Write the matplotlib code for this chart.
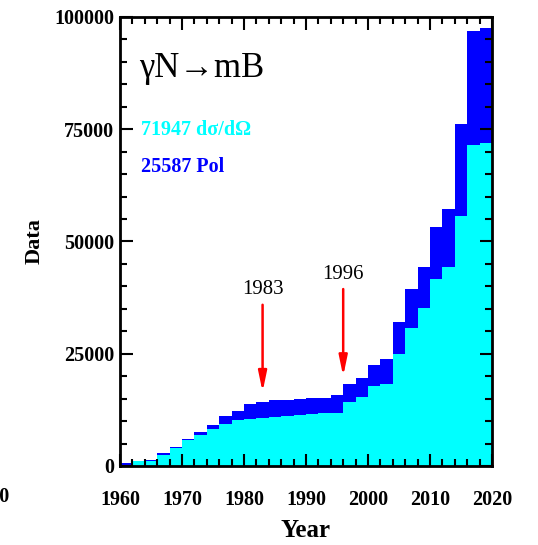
import numpy as np
import matplotlib
matplotlib.use('Agg')
import matplotlib.pyplot as plt
from matplotlib.ticker import MultipleLocator

# two-year bins, cumulative counts
bin_edges = list(range(1960, 2022, 2))
cross_section = [300, 1000, 1200, 2500, 4100, 5700, 6800, 8200, 9400, 10300,
                 10400, 10600, 10900, 11100, 11300, 11500, 11700, 11900, 14200, 15400,
                 17700, 18300, 24900, 30700, 35100, 41600, 44400, 55700, 71500, 72000]
total = [600, 1100, 1300, 3000, 4300, 6000, 7500, 9100, 11100, 12300,
         13700, 14300, 14600, 14800, 15000, 15100, 15200, 15900, 18300, 19500,
         22500, 23800, 32100, 39400, 44400, 53300, 57200, 76100, 96900, 97500]
markers = [1983, 1996]
marker_tip = [16500, 20000]
marker_tail = [35900, 39400]

serif = 'Liberation Serif'

fig = plt.figure(figsize=(5.38, 5.45), dpi=100)
ax = fig.add_axes([0.223, 0.145, 0.6915, 0.8239])

ax.stairs(total, bin_edges, baseline=0, fill=True, color='#0000ff', lw=0)
ax.stairs(cross_section, bin_edges, baseline=0, fill=True, color='#00ffff', lw=0)

ax.set_xlim(1960, 2020)
ax.set_ylim(0, 100000)
ax.xaxis.set_major_locator(MultipleLocator(10))
ax.xaxis.set_minor_locator(MultipleLocator(2))
ax.yaxis.set_major_locator(MultipleLocator(25000))
ax.yaxis.set_minor_locator(MultipleLocator(5000))
ax.tick_params(which='both', direction='in', top=True, right=True, width=1.5, color='black')
ax.tick_params(which='major', length=9, labelsize=14.5)
ax.tick_params(which='minor', length=5)
ax.tick_params(axis='x', which='major', pad=17)
ax.tick_params(axis='y', which='major', pad=4)
for lab in ax.get_xticklabels() + ax.get_yticklabels():
    lab.set_fontfamily(serif)
    lab.set_fontweight('bold')
for s in ax.spines.values():
    s.set_linewidth(2)
ax.set_axisbelow(False)

ax.set_xlabel('Year', fontsize=18, fontfamily=serif, fontweight='bold', labelpad=7)
ax.set_ylabel('Data', fontsize=16, fontfamily=serif, fontweight='bold', labelpad=7)

for yr, tip, tail in zip(markers, marker_tip, marker_tail):
    ax.annotate('', xy=(yr, tip), xytext=(yr, tail),
                arrowprops=dict(arrowstyle='-|>,head_length=1.2,head_width=0.25',
                                color='red', lw=1.8, shrinkA=0, shrinkB=0))
    ax.text(yr, tail + 1200, str(yr), ha='center', va='bottom', fontsize=15,
            fontfamily=serif, color='black')

ax.text(0.052, 0.885, 'γN→mB', transform=ax.transAxes, fontsize=25,
        fontfamily=serif, va='center', ha='left')
ax.text(0.057, 0.748, '71947 dσ/dΩ', transform=ax.transAxes, fontsize=14.5,
        fontfamily=serif, fontweight='bold', color='#00ffff', va='center')
ax.text(0.057, 0.666, '25587 Pol', transform=ax.transAxes, fontsize=14.5,
        fontfamily=serif, fontweight='bold', color='#0000ff', va='center')

# clipped label from neighbouring panel
fig.text(9 / 538, 1 - 497 / 545, '2020', ha='right', va='center', fontsize=14.5,
         fontfamily=serif, fontweight='bold')

fig.savefig('out.png', dpi=100)
